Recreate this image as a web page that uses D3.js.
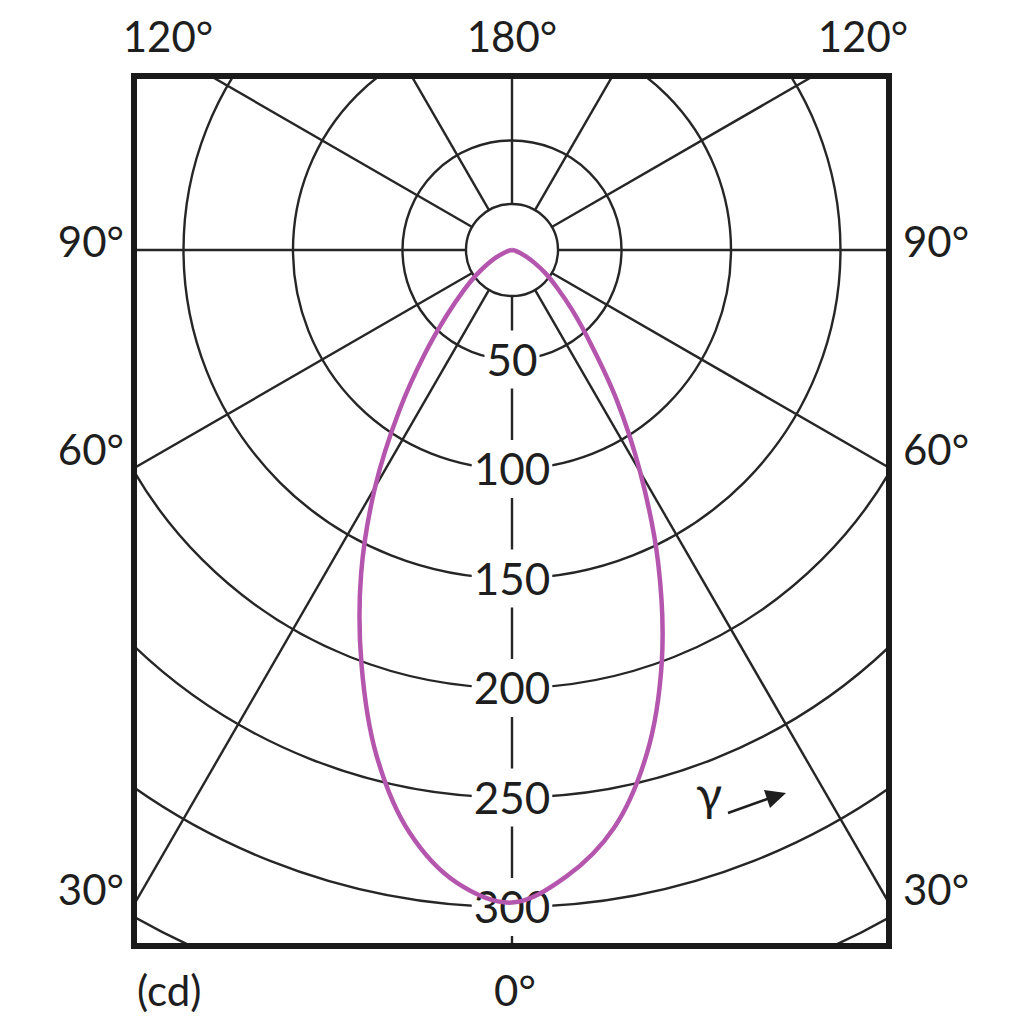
<!DOCTYPE html>
<head>
  <meta charset="utf-8">
  <script src="https://d3js.org/d3.v7.min.js"></script>
  <style>
    body { margin: 0; background: #fff; }
    text { font-family: Lato, "Open Sans", sans-serif; fill: #1e1e1e; }
    .grid { fill: none; stroke: #262626; stroke-width: 2.4px; }
    .curve { fill: none; stroke: #b556ae; stroke-width: 4.5px; stroke-linejoin: round; }
    .frame { fill: none; stroke: #1a1a1a; stroke-width: 6px; }
  </style>
</head>
<body>
<script>
// luminous intensity (cd) per gamma angle, both halves of the plane
var gammas  = [0, 5, 10, 15, 20, 25, 30, 35, 40, 45, 50, 55, 60, 65, 70, 75, 80, 85, 90];
var cdLeft  = [298, 290, 270, 239, 201, 163, 125, 90, 62, 42, 29, 20, 13, 8, 4, 2, 1, 0, 0];
var cdRight = [298, 287, 268, 238, 200, 158, 117, 83, 56, 39, 27, 19, 12, 7, 4, 2, 1, 0, 0];

var rings = [50, 100, 150, 200, 250, 300, 350];
var ringLabels = [50, 100, 150, 200, 250, 300];
var spokes = [30, 60, 90, 120, 150, 180];
var sideLabels = [90, 60, 30];
var topLabels = ["120°", "180°", "120°"];

var width = 1024, height = 1024;
var cx = 512, cy = 250;
var frame = {x: 134, y: 76, w: 755, h: 870};
var hubR = 46;

var r = d3.scaleLinear().domain([0, 50]).range([0, 109.5]);
var rad = function(g) { return g * Math.PI / 180; };

var svg = d3.select("body").append("svg")
  .attr("width", width)
  .attr("height", height);

svg.append("clipPath").attr("id", "clip")
  .append("rect")
  .attr("x", frame.x).attr("y", frame.y)
  .attr("width", frame.w).attr("height", frame.h);

var g = svg.append("g").attr("clip-path", "url(#clip)");
var c = g.append("g").attr("transform", "translate(" + cx + "," + cy + ")");

// circles
c.selectAll(".ring")
  .data(rings)
  .enter().append("circle")
  .attr("class", "grid")
  .attr("r", function(d) { return r(d); });

c.append("circle").attr("class", "grid").attr("r", hubR).style("fill", "#fff");

// spokes, angle measured from straight down
var allSpokes = [0];
spokes.forEach(function(s) { allSpokes.push(s); if (s < 180) allSpokes.push(-s); });
c.selectAll(".spoke")
  .data(allSpokes)
  .enter().append("line")
  .attr("class", "grid")
  .attr("x1", function(d) { return hubR * Math.sin(rad(d)); })
  .attr("y1", function(d) { return hubR * Math.cos(rad(d)); })
  .attr("x2", function(d) { return 1400 * Math.sin(rad(d)); })
  .attr("y2", function(d) { return 1400 * Math.cos(rad(d)); });

// ring labels on the 0 degree line, with white boxes
var lab = c.selectAll(".rl")
  .data(ringLabels)
  .enter().append("g")
  .attr("transform", function(d) { return "translate(0," + r(d) + ")"; });

lab.append("text")
  .attr("text-anchor", "middle")
  .attr("y", 16)
  .style("font-size", "44px")
  .text(function(d) { return d; });

lab.each(function() {
  var t = d3.select(this).select("text");
  var bb = t.node().getBBox();
  d3.select(this).insert("rect", "text")
    .attr("x", bb.x - 2).attr("y", -29)
    .attr("width", bb.width + 4).attr("height", 58)
    .style("fill", "#fff");
});

// curve
var pts = [];
for (var i = gammas.length - 1; i >= 0; i--) pts.push([Math.PI + rad(gammas[i]), r(cdLeft[i])]);
for (var j = 1; j < gammas.length; j++) pts.push([Math.PI - rad(gammas[j]), r(cdRight[j])]);

var line = d3.lineRadial()
  .angle(function(d) { return d[0]; })
  .radius(function(d) { return d[1]; })
  .curve(d3.curveCatmullRom.alpha(0.5));

c.append("path").attr("class", "curve").attr("d", line(pts));

// frame
svg.append("rect").attr("class", "frame")
  .attr("x", frame.x).attr("y", frame.y)
  .attr("width", frame.w).attr("height", frame.h);

// angle labels
var topX = [168, 512, 863];
svg.selectAll(".toplabel")
  .data(topLabels)
  .enter().append("text")
  .attr("x", function(d, i) { return topX[i]; })
  .attr("y", 52)
  .attr("text-anchor", "middle")
  .style("font-size", "42px")
  .text(function(d) { return d; });

var sideY = function(s) { return cy + (s < 90 ? (cx - frame.x) / Math.tan(rad(s)) : 0); };
var sideOff = {90: 7, 60: -3, 30: 0};
sideLabels.forEach(function(s) {
  svg.append("text")
    .attr("x", 124).attr("y", sideY(s) + sideOff[s])
    .attr("text-anchor", "end")
    .style("font-size", "42px")
    .text(s + "°");
  svg.append("text")
    .attr("x", 903).attr("y", sideY(s) + sideOff[s])
    .attr("text-anchor", "start")
    .style("font-size", "42px")
    .text(s + "°");
});

svg.append("text").attr("x", 137).attr("y", 1006)
  .style("font-size", "42px").text("(cd)");
svg.append("text").attr("x", 515).attr("y", 1006)
  .attr("text-anchor", "middle")
  .style("font-size", "42px").text("0°");

// gamma arrow
svg.append("text").attr("x", 696).attr("y", 811)
  .style("font-size", "48px").text("γ");
svg.append("line")
  .attr("x1", 728).attr("y1", 813).attr("x2", 770).attr("y2", 798)
  .style("stroke", "#1e1e1e").style("stroke-width", 2.5);
svg.append("path")
  .attr("d", "M786,793 L764,790 L770,808 Z")
  .style("fill", "#1e1e1e");
</script>
</body>
